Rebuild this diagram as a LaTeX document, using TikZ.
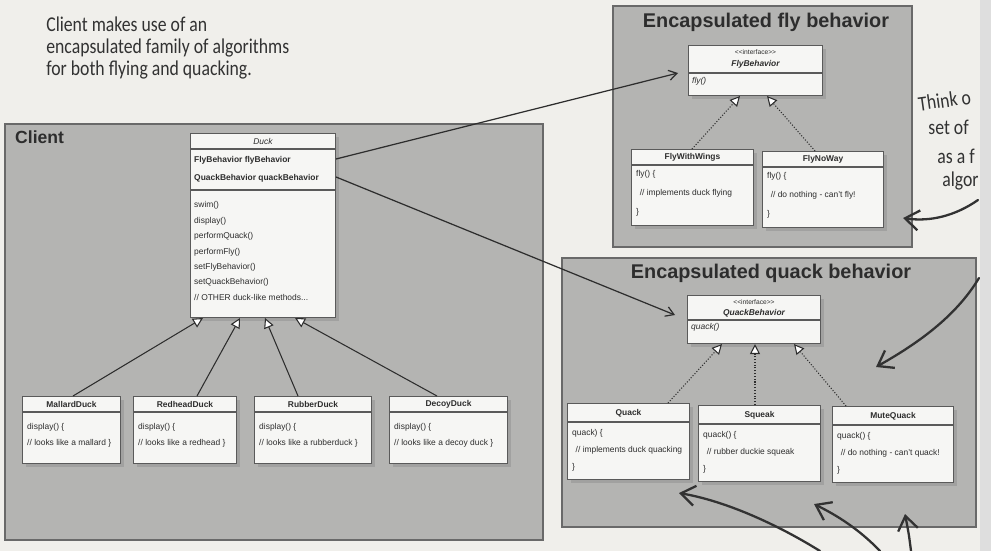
\documentclass[tikz,border=0pt]{standalone}
\usepackage{fontspec}
\setmainfont{Liberation Sans}
\newfontfamily\handFont[FakeStretch=0.84]{Carlito}
\usepackage{xcolor}
\usepackage{tikz}
\usetikzlibrary{arrows.meta, calc, shadows}
\definecolor{paperWhite}{RGB}{240,239,235}
\definecolor{panelGray}{RGB}{180,180,178}
\definecolor{panelEdge}{RGB}{105,105,105}
\definecolor{boxWhite}{RGB}{246,246,244}
\definecolor{boxEdge}{RGB}{90,90,90}
\definecolor{inkGray}{RGB}{45,45,45}
\definecolor{penGray}{RGB}{50,50,50}
\definecolor{stripGray}{RGB}{222,222,222}
\def\scale{1}

\begin{document}
\begin{tikzpicture}[scale=\scale, x=0.02cm, y=-0.02cm,
	panel/.style={fill=panelGray, draw=panelEdge, line width=1.2pt},
	classBox/.style={draw=boxEdge, line width=0.6pt, fill=boxWhite, anchor=north west, inner sep=0pt, minimum height=1.52cm, drop shadow={opacity=0.35, shadow xshift=2pt, shadow yshift=-2pt}},
	rule/.style={draw=boxEdge, line width=0.6pt},
	umlText/.style={text=inkGray, font=\fontsize{4.8}{5.8}\selectfont, inner sep=0.5pt},
	umlTitle/.style={umlText, font=\fontsize{4.8}{5.8}\selectfont\bfseries},
	bodyText/.style={umlText, anchor=west, align=left},
	panelTitle/.style={text=inkGray, font=\fontsize{11.3}{13}\selectfont\bfseries},
	handText/.style={text=penGray, font=\handFont\fontsize{12}{12.8}\selectfont, anchor=west, inner sep=0pt},
	extends/.style={draw=inkGray, line width=0.6pt, -{Triangle[fill=white, length=0.2cm, width=0.2cm]}},
	implements/.style={extends, densely dotted},
	hasA/.style={draw=inkGray, line width=0.7pt, -{Straight Barb[length=0.16cm, width=0.2cm]}},
	penArrow/.style={draw=penGray, line width=1.3pt, line cap=round, -{Straight Barb[length=0.28cm, width=0.4cm]}}]

	\useasboundingbox (0,0) rectangle (991,551);
	\fill[paperWhite] (0,0) rectangle (991,551);

	\node[handText, align=left] (note) at (46,48) {Client makes use of an\\encapsulated family of algorithms\\for both flying and quacking.};
	\node[handText, rotate=8] (think1) at (918,104) {Think o};
	\node[handText] (think2) at (928,127) {set of};
	\node[handText] (think3) at (937,156) {as a f};
	\node[handText] (think4) at (942,181) {algor};
	\fill[stripGray] (980,0) rectangle (991,551);

	% client side
	\draw[panel] (5,124) rectangle (543,540);
	\node[panelTitle, font=\fontsize{10}{12}\selectfont\bfseries, anchor=west] (clientTitle) at (9,137) {Client};

	\node[classBox, minimum width=2.9cm, minimum height=3.68cm] (Duck) at (190,133) {};
	\draw[rule] ($(Duck.north west)+(0,16)$) -- ($(Duck.north east)+(0,16)$);
	\draw[rule] ($(Duck.north west)+(0,57)$) -- ($(Duck.north east)+(0,57)$);
	\node[umlText, font=\fontsize{4.8}{5.8}\selectfont\itshape] (DuckName) at ($(Duck.north)+(0,8)$) {Duck};
	\node[bodyText, font=\fontsize{4.8}{10.2}\selectfont\bfseries] (DuckFields) at ($(Duck.north west)+(3,36)$) {FlyBehavior flyBehavior\\QuackBehavior quackBehavior};
	\node[bodyText, font=\fontsize{4.8}{8.8}\selectfont] (DuckMethods) at ($(Duck.north west)+(3,118)$) {swim()\\display()\\performQuack()\\performFly()\\setFlyBehavior()\\setQuackBehavior()\\// OTHER duck-like methods...};

	\node[classBox, minimum width=1.96cm, minimum height=1.34cm] (Mallard) at (22,396) {};
	\node[classBox, minimum width=2.06cm, minimum height=1.34cm] (Redhead) at (133,396) {};
	\node[classBox, minimum width=2.34cm, minimum height=1.34cm] (Rubber) at (254,396) {};
	\node[classBox, minimum width=2.36cm, minimum height=1.34cm] (Decoy) at (389,396) {};
	\foreach \k in {Mallard, Redhead, Rubber, Decoy}
		\draw[rule] ($(\k.north west)+(0,16)$) -- ($(\k.north east)+(0,16)$);
	\node[umlTitle] (MallardName) at ($(Mallard.north)+(0,8)$) {MallardDuck};
	\node[umlTitle] (RedheadName) at ($(Redhead.north)+(0,8)$) {RedheadDuck};
	\node[umlTitle] (RubberName) at ($(Rubber.north)+(0,8)$) {RubberDuck};
	\node[umlTitle] (DecoyName) at ($(Decoy.north)+(0,8)$) {DecoyDuck};
	\node[bodyText, font=\fontsize{4.8}{9.1}\selectfont] (MallardBody) at ($(Mallard.north west)+(4,39)$) {display() \{\\// looks like a mallard \}};
	\node[bodyText, font=\fontsize{4.8}{9.1}\selectfont] (RedheadBody) at ($(Redhead.north west)+(4,39)$) {display() \{\\// looks like a redhead \}};
	\node[bodyText, font=\fontsize{4.8}{9.1}\selectfont] (RubberBody) at ($(Rubber.north west)+(4,39)$) {display() \{\\// looks like a rubberduck \}};
	\node[bodyText, font=\fontsize{4.8}{9.1}\selectfont] (DecoyBody) at ($(Decoy.north west)+(4,39)$) {display() \{\\// looks like a decoy duck \}};

	\draw[extends] ($(Mallard.north west)+(51,0)$) -- ($(Duck.south west)+(13,0)$);
	\draw[extends] ($(Redhead.north west)+(64,0)$) -- ($(Duck.south west)+(50,0)$);
	\draw[extends] ($(Rubber.north west)+(44,0)$) -- ($(Duck.south west)+(75,0)$);
	\draw[extends] ($(Decoy.north west)+(48,0)$) -- ($(Duck.south west)+(105,0)$);

	% fly behavior
	\draw[panel] (613,6) rectangle (912,247);
	\node[panelTitle] (flyTitle) at (766,22) {Encapsulated fly behavior};

	\node[classBox, minimum width=2.68cm, minimum height=1cm] (FlyB) at (688,45) {};
	\draw[rule] ($(FlyB.north west)+(0,28)$) -- ($(FlyB.north east)+(0,28)$);
	\node[umlText, font=\fontsize{3.8}{4.5}\selectfont] (FlyStereo) at ($(FlyB.north)+(0,7)$) {<\kern0pt<interface>\kern0pt>};
	\node[umlText, font=\fontsize{4.8}{5.8}\selectfont\bfseries\itshape] (FlyName) at ($(FlyB.north)+(0,19)$) {FlyBehavior};
	\node[bodyText, font=\fontsize{4.8}{5.8}\selectfont\itshape] (FlyOp) at ($(FlyB.north west)+(3,36)$) {fly()};

	\node[classBox, minimum width=2.44cm] (Wings) at (631,149) {};
	\node[classBox, minimum width=2.42cm] (NoWay) at (762,151) {};
	\draw[rule] ($(Wings.north west)+(0,16)$) -- ($(Wings.north east)+(0,16)$);
	\draw[rule] ($(NoWay.north west)+(0,16)$) -- ($(NoWay.north east)+(0,16)$);
	\node[umlTitle] (WingsName) at ($(Wings.north)+(0,8)$) {FlyWithWings};
	\node[umlTitle] (NoWayName) at ($(NoWay.north)+(0,8)$) {FlyNoWay};
	\node[bodyText, font=\fontsize{4.8}{10.8}\selectfont] (WingsBody) at ($(Wings.north west)+(4,44)$) {fly() \{\\\hspace{2pt}// implements duck flying\\\}};
	\node[bodyText, font=\fontsize{4.8}{10.8}\selectfont] (NoWayBody) at ($(NoWay.north west)+(4,44)$) {fly() \{\\\hspace{2pt}// do nothing - can't fly!\\\}};

	\draw[implements] ($(Wings.north west)+(61,0)$) -- ($(FlyB.south west)+(52,0)$);
	\draw[implements] ($(NoWay.north west)+(53,0)$) -- ($(FlyB.south west)+(79,0)$);

	% quack behavior
	\draw[panel] (562,258) rectangle (976,527);
	\node[panelTitle] (quackTitle) at (771,273) {Encapsulated quack behavior};

	\node[classBox, minimum width=2.66cm, minimum height=0.96cm] (QuackB) at (687,295) {};
	\draw[rule] ($(QuackB.north west)+(0,25)$) -- ($(QuackB.north east)+(0,25)$);
	\node[umlText, font=\fontsize{3.8}{4.5}\selectfont] (QuackStereo) at ($(QuackB.north)+(0,7)$) {<\kern0pt<interface>\kern0pt>};
	\node[umlText, font=\fontsize{4.8}{5.8}\selectfont\bfseries\itshape] (QuackName) at ($(QuackB.north)+(0,18)$) {QuackBehavior};
	\node[bodyText, font=\fontsize{4.8}{5.8}\selectfont\itshape] (QuackOp) at ($(QuackB.north west)+(3,32)$) {quack()};

	\node[classBox, minimum width=2.44cm] (Quack) at (567,403) {};
	\node[classBox, minimum width=2.44cm] (Squeak) at (698,405) {};
	\node[classBox, minimum width=2.42cm] (Mute) at (832,406) {};
	\foreach \k in {Quack, Squeak, Mute}
		\draw[rule] ($(\k.north west)+(0,19)$) -- ($(\k.north east)+(0,19)$);
	\node[umlTitle] (QuackClassName) at ($(Quack.north)+(0,10)$) {Quack};
	\node[umlTitle] (SqueakName) at ($(Squeak.north)+(0,10)$) {Squeak};
	\node[umlTitle] (MuteName) at ($(Mute.north)+(0,10)$) {MuteQuack};
	\node[bodyText, font=\fontsize{4.8}{9.6}\selectfont] (QuackBody) at ($(Quack.north west)+(4,47)$) {quack) \{\\\hspace{2pt}// implements duck quacking\\\}};
	\node[bodyText, font=\fontsize{4.8}{9.6}\selectfont] (SqueakBody) at ($(Squeak.north west)+(4,47)$) {quack() \{\\\hspace{2pt}// rubber duckie squeak\\\}};
	\node[bodyText, font=\fontsize{4.8}{9.6}\selectfont] (MuteBody) at ($(Mute.north west)+(4,47)$) {quack() \{\\\hspace{2pt}// do nothing - can't quack!\\\}};

	\draw[implements] ($(Quack.north west)+(101,0)$) -- ($(QuackB.south west)+(35,0)$);
	\draw[implements] ($(Squeak.north west)+(57,0)$) -- ($(QuackB.south west)+(68,0)$);
	\draw[implements] ($(Mute.north west)+(14,0)$) -- ($(QuackB.south west)+(107,0)$);

	\draw[hasA] ($(Duck.north east)+(0,26)$) -- ($(FlyB.north west)+(-10,28)$);
	\draw[hasA] ($(Duck.north east)+(0,44)$) -- ($(QuackB.north west)+(-12,20)$);

	% pen marks
	\coordinate (penA) at (978,200);
	\coordinate (penB) at (979,278);
	\coordinate (penC) at (820,551);
	\coordinate (penD) at (880,551);
	\coordinate (penE) at (911,551);
	\draw[penArrow] (penA) .. controls (955,216) and (930,222) .. ($(NoWay.south east)+(19,-10)$);
	\draw[penArrow] (penB) .. controls (955,318) and (915,345) .. ($(Mute.north)+(-17,-39)$);
	\draw[penArrow] (penC) .. controls (770,520) and (720,500) .. ($(Quack.south east)+(-11,13)$);
	\draw[penArrow] (penD) .. controls (855,525) and (830,512) .. ($(Squeak.south east)+(-7,22)$);
	\draw[penArrow] (penE) .. controls (909,535) .. ($(Mute.south)+(12,31)$);

\end{tikzpicture}
\end{document}
